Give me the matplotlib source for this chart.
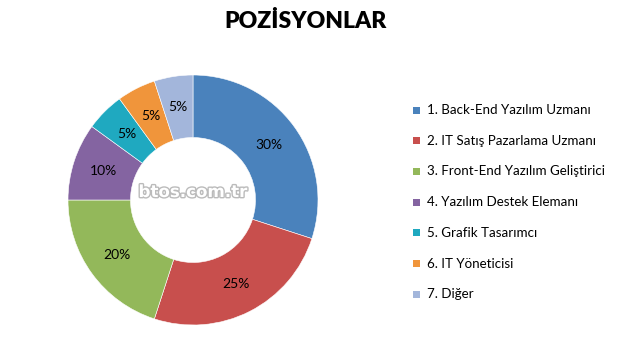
import matplotlib
matplotlib.use("Agg")
import matplotlib.pyplot as plt
import matplotlib.patheffects as pe
from matplotlib.patches import Rectangle

labels = ["1. Back-End Yazılım Uzmanı", "2. IT Satış Pazarlama Uzmanı",
          "3. Front-End Yazılım Geliştirici", "4. Yazılım Destek Elemanı",
          "5. Grafik Tasarımcı", "6. IT Yöneticisi", "7. Diğer"]
values = [30, 25, 20, 10, 5, 5, 5]
colors = ["#4A82BC", "#C84F4D", "#93B85A", "#8464A1", "#1FA9C0", "#F0953B", "#A3B6DB"]
title = "POZİSYONLAR"
watermark = "btos.com.tr"

W, H = 624, 349
fig = plt.figure(figsize=(W/100, H/100), dpi=100)
fig.patch.set_facecolor("white")

cx, cy, r = 193, 200, 125
ax = fig.add_axes([(cx - r)/W, (H - cy - r)/H, 2*r/W, 2*r/H])
wedges, texts, autotexts = ax.pie(
    values, colors=colors, startangle=90, counterclock=False,
    radius=1.0, autopct="%d%%", pctdistance=0.75,
    wedgeprops=dict(width=0.5, edgecolor="white", linewidth=0.4),
    textprops=dict(fontsize=10, color="black", family="Lato"))
ax.set_xlim(-1, 1)
ax.set_ylim(-1, 1)
ax.axis("off")

fig.text(193/W, 1 - 192/H, watermark, ha="center", va="center", fontsize=12,
         fontweight="bold", color="white", family="DejaVu Sans",
         path_effects=[pe.withStroke(linewidth=2, foreground="#bbbbbb")])

fig.text(305/W, 1 - 21/H, title, ha="center", va="center", fontsize=16.5,
         fontweight="heavy", family="Lato", color="black")

y0, dy = 110, 30.7
for i, (lab, c) in enumerate(zip(labels, colors)):
    y = y0 + i*dy
    fig.patches.append(Rectangle(((413)/W, 1 - (y + 3.5)/H), 7/W, 7/H,
                                 transform=fig.transFigure, facecolor=c,
                                 edgecolor="none"))
    fig.text(427/W, 1 - y/H, lab, ha="left", va="center", fontsize=9.6,
             family="Lato", color="black")

fig.savefig("out.png", dpi=100)
